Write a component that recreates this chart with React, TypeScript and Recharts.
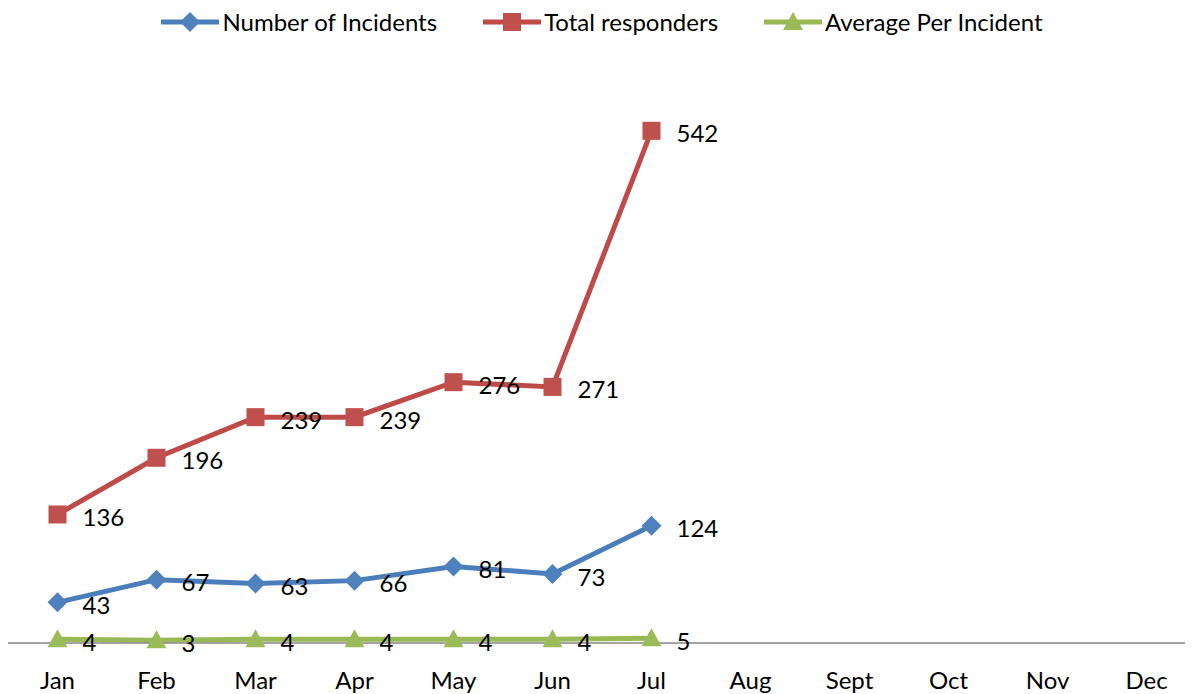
import { CartesianGrid, LabelList, Line, LineChart, XAxis, YAxis } from "recharts";

const MONTHS = ["Jan", "Feb", "Mar", "Apr", "May", "Jun", "Jul", "Aug", "Sept", "Oct", "Nov", "Dec"];
const INCIDENTS = [43, 67, 63, 66, 81, 73, 124];
const RESPONDERS = [136, 196, 239, 239, 276, 271, 542];
const AVERAGE = [4, 3, 4, 4, 4, 4, 5];

const FONT = "Lato, 'Open Sans', sans-serif";

const SERIES = [
  { key: "incidents", name: "Number of Incidents", line: "#4A7EBB", fill: "#4F81BD", shape: "diamond" },
  { key: "responders", name: "Total responders", line: "#BE4B48", fill: "#C0504D", shape: "square" },
  { key: "average", name: "Average Per Incident", line: "#98B954", fill: "#9BBB59", shape: "triangle" },
];

const rows = MONTHS.map((month, i) => ({
  month,
  incidents: INCIDENTS[i] ?? null,
  responders: RESPONDERS[i] ?? null,
  average: AVERAGE[i] ?? null,
}));

function Marker({ cx, cy, shape, color }: { cx: number; cy: number; shape: string; color: string }) {
  const r = 10;
  if (shape === "diamond") {
    return <polygon points={`${cx},${cy - r} ${cx + r},${cy} ${cx},${cy + r} ${cx - r},${cy}`} fill={color} />;
  }
  if (shape === "square") {
    return <rect x={cx - 9} y={cy - 9} width={18} height={18} fill={color} />;
  }
  return <polygon points={`${cx},${cy - r} ${cx + r},${cy + 8} ${cx - r},${cy + 8}`} fill={color} />;
}

function makeDot(shape: string, color: string) {
  return (props: any) => {
    const { cx, cy, value, index } = props;
    if (cx == null || cy == null || value == null) return <g key={index} />;
    return <Marker key={index} cx={cx} cy={cy} shape={shape} color={color} />;
  };
}

function DataLabel(props: any) {
  const { x, y, value } = props;
  if (value == null || x == null || y == null) return null;
  return (
    <text x={x + 25} y={y + 2} dominantBaseline="central" fontSize={24} fontFamily={FONT} fill="#000">
      {value}
    </text>
  );
}

function LegendRow() {
  return (
    <div
      style={{
        position: "absolute",
        top: 0,
        left: 0,
        width: "100%",
        display: "flex",
        justifyContent: "center",
        gap: 46,
        fontFamily: FONT,
        fontSize: 24,
        color: "#000",
        lineHeight: "28px",
      }}
    >
      {SERIES.map((s) => (
        <div key={s.key} style={{ display: "flex", alignItems: "center" }}>
          <svg width={58} height={24} style={{ marginRight: 3 }}>
            <line x1={0} y1={12} x2={58} y2={12} stroke={s.line} strokeWidth={5} />
            <Marker cx={29} cy={12} shape={s.shape} color={s.fill} />
          </svg>
          <span>{s.name}</span>
        </div>
      ))}
    </div>
  );
}

export default function App() {
  return (
    <div style={{ position: "relative", width: 1188, height: 686 }}>
      <LineChart width={1188} height={686} data={rows} margin={{ top: 68, right: 0, bottom: 0, left: 0 }}>
        <CartesianGrid horizontal={false} vertical={false} />
        <XAxis
          dataKey="month"
          axisLine={{ stroke: "#868686", strokeWidth: 1.5 }}
          tickLine={false}
          tickSize={0}
          tickMargin={29}
          height={51}
          interval={0}
          padding={{ left: 49.5, right: 49.5 }}
          tick={{ fill: "#000", fontSize: 24, fontFamily: FONT }}
        />
        <YAxis hide domain={[0, 600]} />
        {SERIES.map((s) => (
          <Line
            key={s.key}
            dataKey={s.key}
            stroke={s.line}
            strokeWidth={5}
            dot={makeDot(s.shape, s.fill)}
            activeDot={false}
            isAnimationActive={false}
          >
            <LabelList dataKey={s.key} content={<DataLabel />} />
          </Line>
        ))}
      </LineChart>
      <LegendRow />
    </div>
  );
}
